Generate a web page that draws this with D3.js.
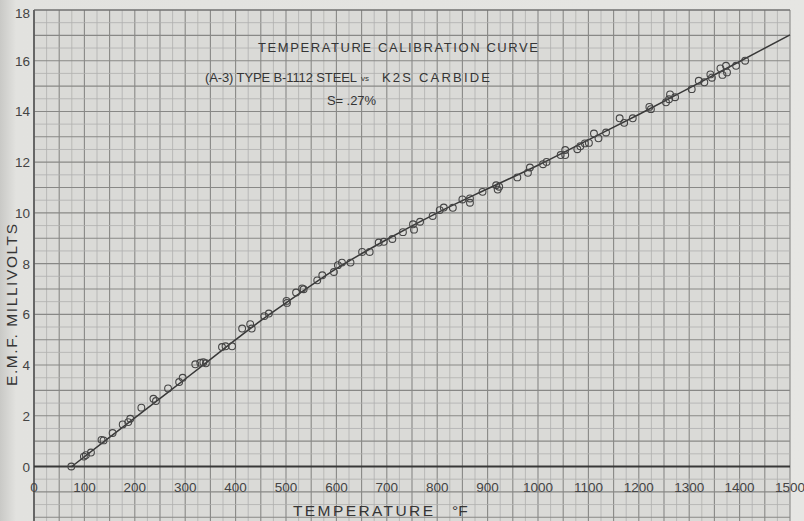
<!DOCTYPE html>
<html>
<head>
<meta charset="utf-8">
<script src="https://cdn.jsdelivr.net/npm/d3@7"></script>
<style>
  html, body { margin: 0; padding: 0; background: #e3e3e0; }
  svg { display: block; }
</style>
</head>
<body>
<script>
// calibration readings
var tempF = [74, 99, 103, 113, 134, 138, 156, 176, 187, 191, 213, 237, 242, 266, 288, 295,
  320, 330, 336, 341, 373, 380, 393, 413, 429, 432, 457, 466, 501, 502, 520, 532, 535,
  562, 572, 595, 603, 611, 628, 651, 666, 684, 694, 711, 732, 752, 754, 766, 791, 805,
  813, 831, 850, 865, 865, 890, 917, 923, 920, 959, 980, 984, 1010, 1017, 1045, 1054,
  1054, 1078, 1084, 1093, 1101, 1111, 1120, 1135, 1162, 1171, 1188, 1221, 1224, 1254,
  1262, 1260, 1272, 1305, 1319, 1330, 1342, 1345, 1362, 1366, 1373, 1375, 1393, 1411];
var emfMv = [0, 0.39, 0.45, 0.55, 1.05, 1.03, 1.32, 1.66, 1.75, 1.88, 2.32, 2.67, 2.58, 3.08, 3.33, 3.5,
  4.03, 4.09, 4.11, 4.07, 4.71, 4.74, 4.74, 5.44, 5.61, 5.44, 5.93, 6.03, 6.53, 6.45, 6.86, 7.02, 6.99,
  7.34, 7.54, 7.67, 7.94, 8.04, 8.04, 8.46, 8.46, 8.83, 8.86, 8.97, 9.24, 9.55, 9.34, 9.65, 9.88, 10.11,
  10.21, 10.2, 10.53, 10.57, 10.4, 10.83, 11.09, 11.03, 10.92, 11.4, 11.58, 11.79, 11.92, 12.01, 12.28, 12.28,
  12.48, 12.51, 12.63, 12.74, 12.76, 13.13, 12.94, 13.17, 13.73, 13.55, 13.73, 14.18, 14.09, 14.36,
  14.67, 14.48, 14.56, 14.88, 15.21, 15.15, 15.46, 15.33, 15.7, 15.44, 15.8, 15.54, 15.8, 16.0];

// hand drawn calibration curve
var curveTemp = [75, 200, 300, 400, 450, 500, 600, 700, 800, 900, 1000, 1100, 1200, 1300, 1400, 1500];
var curveEmf  = [0, 1.92, 3.45, 5.0, 5.75, 6.45, 7.8, 8.95, 10.0, 10.95, 11.88, 12.88, 13.88, 14.92, 15.97, 17.02];

var xTicks = [0, 100, 200, 300, 400, 500, 600, 700, 800, 900, 1000, 1100, 1200, 1300, 1400, 1500];
var yTicks = [0, 2, 4, 6, 8, 10, 12, 14, 16, 18];

var titleLines = ["TEMPERATURE CALIBRATION CURVE", "(A-3) TYPE B-1112 STEEL", "vs", "K2S CARBIDE", "S= .27%"];

var W = 804, H = 521;
var ink = "#383838";
var textInk = "#353535";
var font = "'Liberation Sans', Arial, sans-serif";

var svg = d3.select("body").append("svg")
    .attr("width", W)
    .attr("height", H);

var x = d3.scaleLinear().domain([0, 1500]).range([34, 790]);
var y = d3.scaleLinear().domain([0, 18]).range([466.5, 10]);

// paper, slightly darker at the left edge
var grad = svg.append("defs").append("linearGradient").attr("id", "paper");
grad.append("stop").attr("offset", "0%").attr("stop-color", "#c9c9c6");
grad.append("stop").attr("offset", "2%").attr("stop-color", "#e2e2df");
grad.append("stop").attr("offset", "100%").attr("stop-color", "#e6e6e3");
svg.append("rect").attr("width", W).attr("height", H).attr("fill", "url(#paper)");

// graph paper
svg.append("rect")
    .attr("x", x(0)).attr("y", y(18))
    .attr("width", x(1500) - x(0)).attr("height", H - y(18))
    .attr("fill", "#dadad7");

var grid = svg.append("g");
var yBottom = -2.2;
d3.range(0, 1501, 25).forEach(function(t) {
  grid.append("line")
      .attr("x1", x(t)).attr("x2", x(t))
      .attr("y1", y(18)).attr("y2", y(yBottom))
      .attr("stroke", t % 50 === 0 ? "#888886" : "#b0b0ae")
      .attr("stroke-width", t % 50 === 0 ? 1.1 : 0.8);
});
d3.range(-4, 37).forEach(function(k) {
  var v = k / 2;
  grid.append("line")
      .attr("x1", x(0)).attr("x2", x(1500))
      .attr("y1", y(v)).attr("y2", y(v))
      .attr("stroke", k % 2 === 0 ? "#888886" : "#b0b0ae")
      .attr("stroke-width", k % 2 === 0 ? 1.1 : 0.8);
});

// border lines and zero line
svg.append("line")
    .attr("x1", x(0)).attr("x2", x(0)).attr("y1", y(18)).attr("y2", H)
    .attr("stroke", "#555").attr("stroke-width", 1.6);
svg.append("line")
    .attr("x1", x(0)).attr("x2", x(1500)).attr("y1", y(18)).attr("y2", y(18))
    .attr("stroke", "#666").attr("stroke-width", 1.2);
svg.append("line")
    .attr("x1", x(0)).attr("x2", x(1500)).attr("y1", y(0)).attr("y2", y(0))
    .attr("stroke", ink).attr("stroke-width", 2);

// tick labels
svg.append("g").selectAll("text")
  .data(xTicks)
  .join("text")
    .attr("x", function(d) { return x(d); })
    .attr("y", 492)
    .attr("text-anchor", "middle")
    .attr("font-family", font)
    .attr("font-size", 13.5)
    .attr("fill", "#444")
    .text(function(d) { return d; });

svg.append("g").selectAll("text")
  .data(yTicks)
  .join("text")
    .attr("x", 30)
    .attr("y", function(d) { return d === 18 ? y(d) + 8 : y(d) + 5; })
    .attr("text-anchor", "end")
    .attr("font-family", font)
    .attr("font-size", 13.5)
    .attr("fill", "#444")
    .text(function(d) { return d; });

// axis titles
svg.append("text")
    .attr("transform", "translate(17,305) rotate(-90)")
    .attr("text-anchor", "middle")
    .attr("font-family", font)
    .attr("font-size", 15.5)
    .attr("fill", textInk)
    .attr("textLength", 162)
    .attr("lengthAdjust", "spacing")
    .text("E.M.F.   MILLIVOLTS");

svg.append("text")
    .attr("x", 293).attr("y", 516)
    .attr("font-family", font)
    .attr("font-size", 15.5)
    .attr("fill", textInk)
    .attr("textLength", 140)
    .attr("lengthAdjust", "spacing")
    .text("TEMPERATURE");
svg.append("text")
    .attr("x", 452).attr("y", 516)
    .attr("font-family", font)
    .attr("font-size", 15.5)
    .attr("fill", textInk)
    .text("°F");

// chart title block
function label(txt, x0, yb, len, size) {
  var t = svg.append("text")
      .attr("x", x0).attr("y", yb)
      .attr("font-family", font)
      .attr("font-size", size)
      .attr("fill", textInk)
      .text(txt);
  if (len) t.attr("textLength", len).attr("lengthAdjust", "spacing");
}
label(titleLines[0], 258, 52, 280, 13);
label(titleLines[1], 205, 82, 152, 13);
label(titleLines[2], 361, 81, null, 8);
label(titleLines[3], 382, 82, 108, 13);
label(titleLines[4], 327, 105, 49, 13);

// calibration curve
var line = d3.line()
    .x(function(d) { return x(d[0]); })
    .y(function(d) { return y(d[1]); })
    .curve(d3.curveCatmullRom);

svg.append("path")
    .datum(d3.zip(curveTemp, curveEmf))
    .attr("d", line)
    .attr("fill", "none")
    .attr("stroke", ink)
    .attr("stroke-width", 1.5);

// readings
svg.append("g").selectAll("circle")
  .data(d3.zip(tempF, emfMv))
  .join("circle")
    .attr("cx", function(d) { return x(d[0]); })
    .attr("cy", function(d) { return y(d[1]); })
    .attr("r", 3.4)
    .attr("fill", "none")
    .attr("stroke", "#454545")
    .attr("stroke-width", 1.1);
</script>
</body>
</html>
